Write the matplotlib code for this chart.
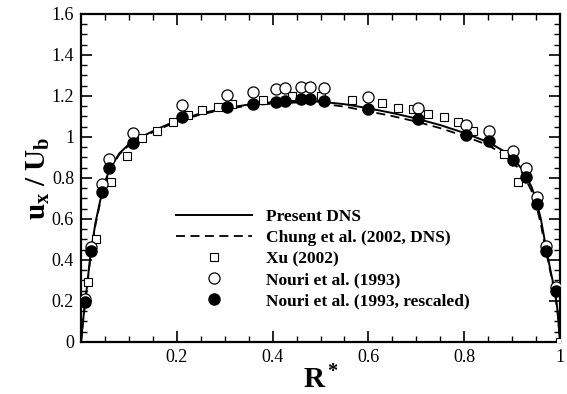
import matplotlib
matplotlib.use('Agg')
import matplotlib.pyplot as plt
from matplotlib.ticker import MultipleLocator, FuncFormatter

### plotting parameters ###
plt.rcParams['font.family'] = 'Liberation Serif'
plt.rcParams['mathtext.fontset'] = 'custom'
plt.rcParams['mathtext.rm'] = 'Liberation Serif'
plt.rcParams['mathtext.bf'] = 'Liberation Serif:bold'
plt.rcParams['mathtext.it'] = 'Liberation Serif:italic'
fs = 21
fssml = 13
fsleg = 12.5

### data ###
# present DNS (solid)
dns_r = [0.0, 0.005, 0.01, 0.02, 0.03, 0.04, 0.05, 0.06, 0.08, 0.10, 0.13, 0.16, 0.20,
         0.25, 0.30, 0.35, 0.40, 0.45, 0.50, 0.55, 0.60, 0.65, 0.70, 0.75, 0.80, 0.85,
         0.88, 0.90, 0.92, 0.94, 0.95, 0.96, 0.97, 0.98, 0.99, 0.995, 1.0]
dns_u = [0.0, 0.12, 0.22, 0.43, 0.58, 0.69, 0.78, 0.845, 0.92, 0.965, 1.005, 1.04, 1.08,
         1.115, 1.14, 1.158, 1.17, 1.176, 1.172, 1.16, 1.14, 1.117, 1.09, 1.058, 1.02, 0.975,
         0.935, 0.90, 0.845, 0.76, 0.695, 0.60, 0.47, 0.35, 0.24, 0.15, 0.0]
# Chung et al. (2002, DNS) (dashed)
chung_r = [0.0, 0.005, 0.01, 0.02, 0.03, 0.04, 0.05, 0.06, 0.08, 0.10, 0.13, 0.16, 0.20,
           0.25, 0.30, 0.35, 0.40, 0.45, 0.50, 0.55, 0.60, 0.65, 0.70, 0.75, 0.80, 0.85,
           0.88, 0.90, 0.92, 0.94, 0.95, 0.96, 0.97, 0.98, 0.99, 0.995, 1.0]
chung_u = [0.0, 0.12, 0.22, 0.42, 0.57, 0.68, 0.77, 0.84, 0.915, 0.96, 1.0, 1.035, 1.075,
           1.11, 1.135, 1.153, 1.163, 1.168, 1.163, 1.148, 1.125, 1.102, 1.075, 1.043, 1.005, 0.96,
           0.918, 0.88, 0.83, 0.74, 0.67, 0.575, 0.45, 0.34, 0.23, 0.14, 0.0]
# Xu (2002)
xu_r = [0.014, 0.031, 0.063, 0.095, 0.127, 0.158, 0.191, 0.223, 0.253, 0.285, 0.316, 0.379,
        0.441, 0.502, 0.565, 0.628, 0.661, 0.694, 0.724, 0.758, 0.788, 0.819, 0.883, 0.913, 1.0]
xu_u = [0.294, 0.501, 0.778, 0.906, 0.993, 1.029, 1.071, 1.107, 1.132, 1.148, 1.159, 1.180,
        1.198, 1.198, 1.180, 1.167, 1.143, 1.135, 1.111, 1.099, 1.075, 1.028, 0.915, 0.782, 0.0]
# Nouri et al. (1993)
nouri_r = [0.008, 0.021, 0.0445, 0.059, 0.109, 0.211, 0.305, 0.358, 0.408, 0.426, 0.459,
           0.478, 0.507, 0.600, 0.703, 0.803, 0.852, 0.902, 0.930, 0.951, 0.970, 0.991]
nouri_u = [0.208, 0.465, 0.769, 0.891, 1.021, 1.155, 1.205, 1.218, 1.233, 1.237, 1.245,
           1.245, 1.237, 1.197, 1.140, 1.060, 1.030, 0.933, 0.850, 0.707, 0.468, 0.270]
# Nouri et al. (1993, rescaled)
nouris_u = [0.197, 0.444, 0.733, 0.847, 0.972, 1.096, 1.148, 1.161, 1.172, 1.177, 1.184,
            1.184, 1.177, 1.135, 1.088, 1.010, 0.980, 0.888, 0.806, 0.673, 0.444, 0.250]

### plot ###
fig = plt.figure(figsize=(5.67, 3.94), dpi=100)
ax = fig.add_axes([0.1429, 0.132, 0.8448, 0.8325])
ax.plot(dns_r, dns_u, color='black', linestyle='-', linewidth=1.4, label='Present DNS', zorder=3)
ax.plot(chung_r, chung_u, color='black', linestyle=(0, (5, 3)), linewidth=1.3,
        label='Chung et al. (2002, DNS)', zorder=3)
ax.plot(xu_r, xu_u, marker='s', markersize=6, markerfacecolor='white', markeredgecolor='black',
        markeredgewidth=0.8, linestyle='None', label='Xu (2002)', zorder=4)
ax.plot(nouri_r, nouri_u, marker='o', markersize=8, markerfacecolor='white', markeredgecolor='black',
        markeredgewidth=0.9, linestyle='None', label='Nouri et al. (1993)', zorder=4)
ax.plot(nouri_r, nouris_u, marker='o', markersize=8, markerfacecolor='black', markeredgecolor='black',
        linestyle='None', label='Nouri et al. (1993, rescaled)', zorder=5)

ax.set_xlim([0, 1])
ax.set_ylim([0, 1.6])
ax.xaxis.set_major_locator(MultipleLocator(0.2))
ax.xaxis.set_minor_locator(MultipleLocator(0.05))
ax.yaxis.set_major_locator(MultipleLocator(0.2))
ax.yaxis.set_minor_locator(MultipleLocator(0.05))
ax.xaxis.set_major_formatter(FuncFormatter(lambda v, p: '' if abs(v) < 1e-9 else '%g' % round(v, 2)))
ax.yaxis.set_major_formatter(FuncFormatter(lambda v, p: '%g' % round(v, 2)))
ax.tick_params(axis='both', which='both', direction='in', top=True, right=True, labelsize=fssml)
ax.tick_params(axis='both', which='major', length=8, width=1.2, pad=5)
ax.tick_params(axis='both', which='minor', length=4, width=1.0)
for sp in ax.spines.values():
	sp.set_linewidth(1.6)

ax.set_xlabel(r'$\mathbf{R^*}$', fontsize=fs, labelpad=0)
ax.set_ylabel(r'$\mathbf{u_x\ /\ U_b}$', fontsize=fs, labelpad=-0.5)

leg = ax.legend(loc='upper left', bbox_to_anchor=(0.198, 0.405), frameon=False, handlelength=4.4,
                handletextpad=0.8, labelspacing=0.28, borderpad=0, borderaxespad=0,
                prop={'family': 'Liberation Serif', 'weight': 'bold', 'size': fsleg})

plt.savefig('out.png', dpi=100)
plt.close()
